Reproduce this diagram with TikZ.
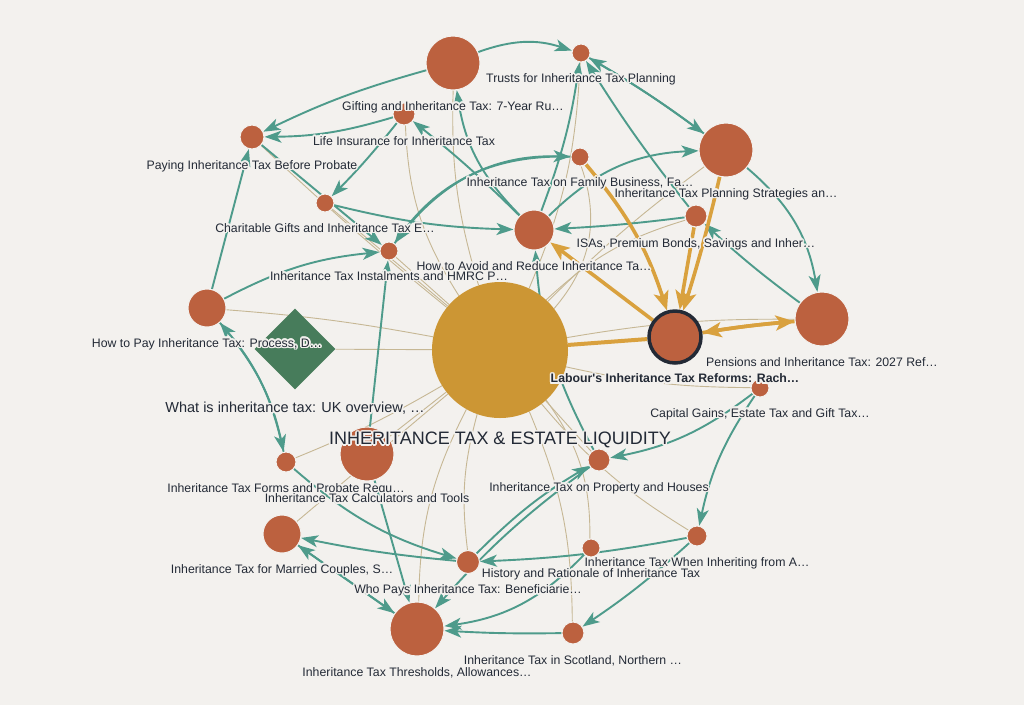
\documentclass[tikz,border=0pt]{standalone}
\usepackage{fontspec}
\setmainfont{Liberation Sans}
\usepackage{contour}
\usetikzlibrary{arrows.meta}
\usetikzlibrary{shapes.geometric}
\usetikzlibrary{positioning}

\definecolor{paper}{HTML}{F3F1EE}
\definecolor{rust}{HTML}{BC613F}
\definecolor{hubgold}{HTML}{CC9634}
\definecolor{pine}{HTML}{477C5B}
\definecolor{sea}{HTML}{4E9B8B}
\definecolor{amber}{HTML}{D9A13E}
\definecolor{sand}{HTML}{C6B794}
\definecolor{ink}{HTML}{232A36}

\contourlength{1.5pt}
\newcommand{\halo}[1]{\contour{paper}{#1}}

\pgfdeclarelayer{paperlayer}
\pgfdeclarelayer{edgelayer}
\pgfdeclarelayer{textlayer}
\pgfsetlayers{paperlayer,edgelayer,main,textlayer}

\tikzset{
  topic/.style={circle,fill=rust,draw=paper,line width=1pt,inner sep=0pt,minimum size=#1},
  hubline/.style={draw=sand,line width=0.9pt},
  flow/.style={draw=sea,line width=1.9pt,-{Stealth[length=17pt,width=12pt,inset=4.5pt]}},
  hot/.style={draw=amber,line width=3.6pt,-{Stealth[length=19pt,width=15pt,inset=4.5pt]}},
  lbl/.style={font=\fontsize{12.3}{14}\selectfont,text=ink,inner sep=0pt,text height=9pt,text depth=2.6pt},
}

\begin{document}
\begin{tikzpicture}[x=1pt,y=-1pt]
  \begin{pgfonlayer}{paperlayer}
    \fill[paper] (0,0) rectangle (1024,705);
  \end{pgfonlayer}
  % hub and topics
  \node[circle,fill=hubgold,inner sep=0pt,minimum size=136pt] (hub) at (500,350) {};
  \node[diamond,fill=pine,inner sep=0pt,minimum size=81pt] (whatis) at (295,349) {};
  \node[topic=52pt,draw=ink,line width=3.5pt] (labour) at (675,337) {};
  \node[topic=54pt] (pensions) at (822,319) {};
  \node[topic=18pt] (capgains) at (760,388) {};
  \node[topic=22pt] (property) at (599,460) {};
  \node[topic=20pt] (inheriting) at (697,536) {};
  \node[topic=18pt] (history) at (591,548) {};
  \node[topic=22pt] (scotland) at (573,633) {};
  \node[topic=54pt] (thresholds) at (417,629) {};
  \node[topic=23pt] (whopays) at (468,562) {};
  \node[topic=38pt] (married) at (282,534) {};
  \node[topic=20pt] (forms) at (286,462) {};
  \node[topic=54pt] (calc) at (367,454) {};
  \node[topic=38pt] (howpay) at (207,308) {};
  \node[topic=18pt] (instal) at (389,251) {};
  \node[topic=18pt] (charity) at (325,203) {};
  \node[topic=24pt] (probate) at (252,137) {};
  \node[topic=22pt] (lifeins) at (404,114) {};
  \node[topic=54pt] (gifting) at (453,63) {};
  \node[topic=18pt] (trusts) at (581,53) {};
  \node[topic=54pt] (strategies) at (726,150) {};
  \node[topic=18pt] (family) at (580,157) {};
  \node[topic=22pt] (isas) at (696,216) {};
  \node[topic=40pt] (avoid) at (534,230) {};

  \begin{pgfonlayer}{edgelayer}
    % hub links
    \foreach \n/\b in {howpay/-3,whatis/0,probate/2,charity/0,instal/0,lifeins/15,
      gifting/9,trusts/-10,family/-30,strategies/4,isas/13,pensions/5,capgains/-6,
      property/0,inheriting/-9,history/18,scotland/11,thresholds/-13,whopays/-11,
      married/0,forms/4,calc/0}
      \draw[hubline] (hub) to[bend left=\b] (\n);
    % cross links
    \foreach \s/\t/\b in {gifting/trusts/19,trusts/strategies/3,strategies/trusts/-3,
      gifting/probate/-5,lifeins/probate/8,lifeins/charity/3,avoid/lifeins/-3,
      avoid/gifting/18,probate/instal/0,instal/family/28,family/instal/-28,
      charity/avoid/-6,howpay/probate/0,howpay/instal/11,howpay/forms/14,
      forms/howpay/-14,calc/instal/0,avoid/trusts/-6,avoid/strategies/21,
      isas/avoid/2,pensions/isas/3,strategies/pensions/20,isas/trusts/3,
      property/avoid/12,capgains/property/13,capgains/inheriting/-11,
      inheriting/whopays/4,inheriting/scotland/4,scotland/thresholds/2,
      history/thresholds/19,whopays/property/7,property/thresholds/-6,
      forms/whopays/-12,whopays/married/3,married/thresholds/0,
      thresholds/married/0,calc/thresholds/0}
      \draw[flow] (\s) to[bend left=\b] (\t);
    % links of the selected topic
    \draw[amber,line width=4pt] (hub) -- (labour);
    \foreach \s/\t/\b in {family/labour/11,strategies/labour/2,isas/labour/0,
      labour/avoid/0,labour/pensions/2,pensions/labour/-2}
      \draw[hot] (\s) to[bend left=\b] (\t);
  \end{pgfonlayer}

  \begin{pgfonlayer}{textlayer}
    \node[lbl,font=\fontsize{18}{20}\selectfont,text height=13pt,text depth=0pt,below=13.5pt of hub] (hub-t) {\halo{INHERITANCE TAX \& ESTATE LIQUIDITY}};
    \node[lbl,font=\fontsize{14.5}{16}\selectfont,text height=10.5pt,text depth=3pt,below=12.5pt of whatis] (whatis-t) {\halo{What is inheritance tax: UK overview, …}};
    \node[lbl,font=\fontsize{12.3}{14}\bfseries,below=9pt of labour] (labour-t) {\halo{Labour\textquotesingle s Inheritance Tax Reforms: Rach…}};
    \node[lbl,below=10.5pt of pensions] (pensions-t) {\halo{Pensions and Inheritance Tax: 2027 Ref…}};
    \node[lbl,below=10.5pt of capgains] (capgains-t) {\halo{Capital Gains, Estate Tax and Gift Tax…}};
    \node[lbl,below=10.5pt of property] (property-t) {\halo{Inheritance Tax on Property and Houses}};
    \node[lbl,below=10.5pt of inheriting] (inheriting-t) {\halo{Inheritance Tax When Inheriting from A…}};
    \node[lbl,below=10.5pt of history] (history-t) {\halo{History and Rationale of Inheritance Tax}};
    \node[lbl,below=10.5pt of scotland] (scotland-t) {\halo{Inheritance Tax in Scotland, Northern …}};
    \node[lbl,below=10.5pt of thresholds] (thresholds-t) {\halo{Inheritance Tax Thresholds, Allowances…}};
    \node[lbl,below=10.5pt of whopays] (whopays-t) {\halo{Who Pays Inheritance Tax: Beneficiarie…}};
    \node[lbl,below=10.5pt of married] (married-t) {\halo{Inheritance Tax for Married Couples, S…}};
    \node[lbl,below=10.5pt of forms] (forms-t) {\halo{Inheritance Tax Forms and Probate Requ…}};
    \node[lbl,below=12pt of calc] (calc-t) {\halo{Inheritance Tax Calculators and Tools}};
    \node[lbl,below=10.5pt of howpay] (howpay-t) {\halo{How to Pay Inheritance Tax: Process, D…}};
    \node[lbl,below=10.5pt of instal] (instal-t) {\halo{Inheritance Tax Instalments and HMRC P…}};
    \node[lbl,below=10.5pt of charity] (charity-t) {\halo{Charitable Gifts and Inheritance Tax E…}};
    \node[lbl,below=10.5pt of probate] (probate-t) {\halo{Paying Inheritance Tax Before Probate}};
    \node[lbl,below=10.5pt of lifeins] (lifeins-t) {\halo{Life Insurance for Inheritance Tax}};
    \node[lbl,below=10.5pt of gifting] (gifting-t) {\halo{Gifting and Inheritance Tax: 7-Year Ru…}};
    \node[lbl,below=10.5pt of trusts] (trusts-t) {\halo{Trusts for Inheritance Tax Planning}};
    \node[lbl,below=10.5pt of strategies] (strategies-t) {\halo{Inheritance Tax Planning Strategies an…}};
    \node[lbl,below=10.5pt of family] (family-t) {\halo{Inheritance Tax on Family Business, Fa…}};
    \node[lbl,below=10.5pt of isas] (isas-t) {\halo{ISAs, Premium Bonds, Savings and Inher…}};
    \node[lbl,below=10.5pt of avoid] (avoid-t) {\halo{How to Avoid and Reduce Inheritance Ta…}};
  \end{pgfonlayer}
\end{tikzpicture}
\end{document}
